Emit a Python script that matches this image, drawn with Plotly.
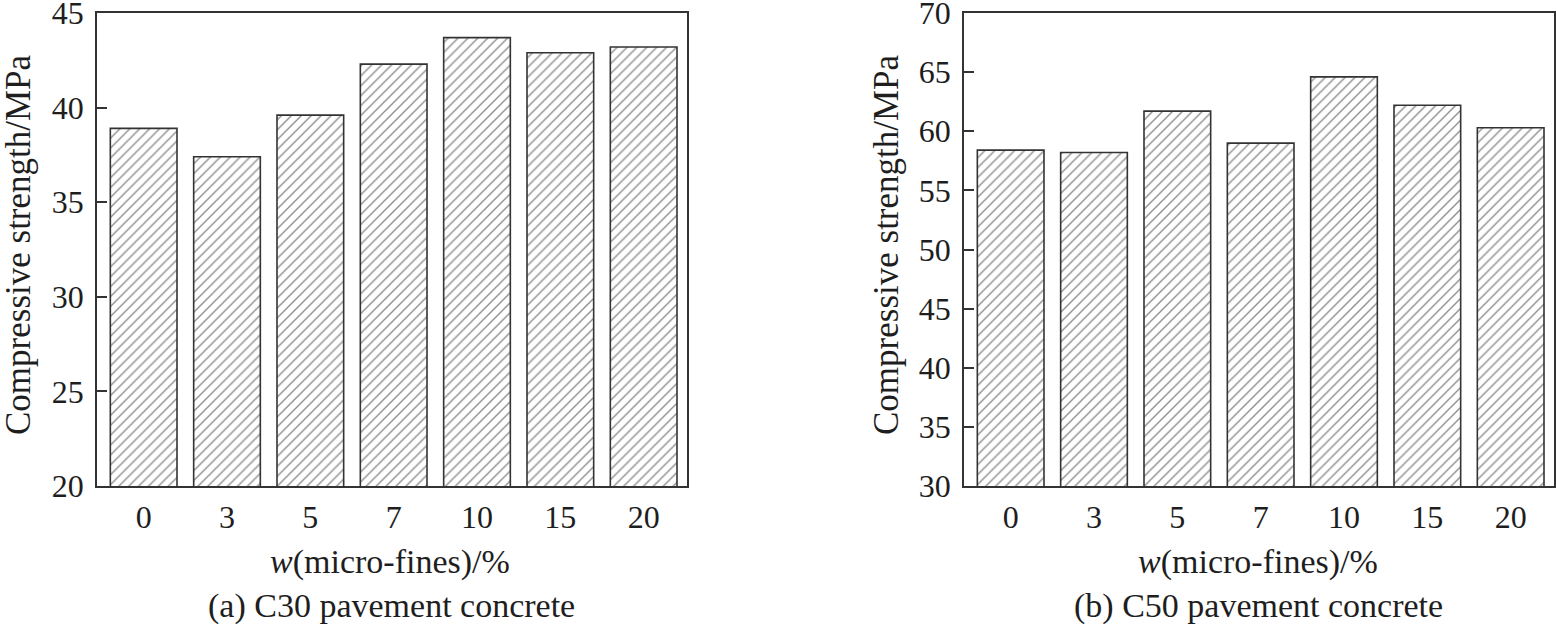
import plotly.graph_objects as go

categories = ["0", "3", "5", "7", "10", "15", "20"]
c30_strength = [38.9, 37.4, 39.6, 42.3, 43.7, 42.9, 43.2]
c50_strength = [58.4, 58.2, 61.7, 59.0, 64.6, 62.2, 60.3]
y_title = "Compressive strength/MPa"
x_title = "<i>w</i>(micro-fines)/%"
sub_a = "(a) C30 pavement concrete"
sub_b = "(b) C50 pavement concrete"

W, H = 1556, 629
FONT = "Liberation Serif"
LC = "#333333"
TC = "#1e1e1e"

def px_x(p):
    return min(max(p / W, 0.0), 1.0)

def px_y(p):
    return 1 - p / H

fig = go.Figure()

bar_style = dict(
    width=0.8,
    marker=dict(
        color="white",
        line=dict(color=LC, width=1.6),
        pattern=dict(shape="/", fgcolor="#1e1e1e", bgcolor="white", size=7, solidity=0.2),
    ),
    showlegend=False,
)
fig.add_trace(go.Bar(x=categories, y=c30_strength, xaxis="x", yaxis="y", **bar_style))
fig.add_trace(go.Bar(x=categories, y=c50_strength, xaxis="x2", yaxis="y2", **bar_style))

xcommon = dict(
    type="category", showline=True, mirror=True, linecolor=LC, linewidth=1.6,
    ticks="", showgrid=False, zeroline=False, range=[-0.56, 6.52], automargin=False,
    tickfont=dict(family=FONT, size=32, color=TC), ticklabelstandoff=2,
)
ycommon = dict(
    showline=True, mirror=True, linecolor=LC, linewidth=1.6, automargin=False,
    ticks="inside", ticklen=10, tickcolor=LC, tickwidth=1.6,
    showgrid=False, zeroline=False, dtick=5, ticklabeloverflow="allow",
    tickfont=dict(family=FONT, size=32, color=TC), ticklabelstandoff=5,
)

dom_y = [px_y(486), px_y(13)]
fig.update_layout(
    width=W, height=H,
    margin=dict(l=0, r=0, t=0, b=0, autoexpand=False),
    paper_bgcolor="white", plot_bgcolor="white",
    xaxis=dict(domain=[px_x(97), px_x(687)], anchor="y", **xcommon),
    yaxis=dict(domain=dom_y, anchor="x", range=[20, 45], **ycommon),
    xaxis2=dict(domain=[px_x(964), px_x(1554)], anchor="y2", **xcommon),
    yaxis2=dict(domain=dom_y, anchor="x2", range=[30, 70], **ycommon),
)

anns = [
    dict(x=px_x(18), y=px_y(245), text=y_title, textangle=-90, size=35),
    dict(x=px_x(886), y=px_y(245), text=y_title, textangle=-90, size=35),
    dict(x=px_x(390), y=px_y(562), text=x_title, size=34),
    dict(x=px_x(1258), y=px_y(562), text=x_title, size=34),
    dict(x=px_x(391), y=px_y(606), text=sub_a, size=34),
    dict(x=px_x(1258), y=px_y(606), text=sub_b, size=34),
]
for a in anns:
    size = a.pop("size")
    fig.add_annotation(xref="paper", yref="paper", xanchor="center", yanchor="middle",
                       showarrow=False, font=dict(family=FONT, size=size, color=TC), **a)

fig.write_html("out.html", config={"displayModeBar": False},
               post_script="document.body.style.margin='0';")
